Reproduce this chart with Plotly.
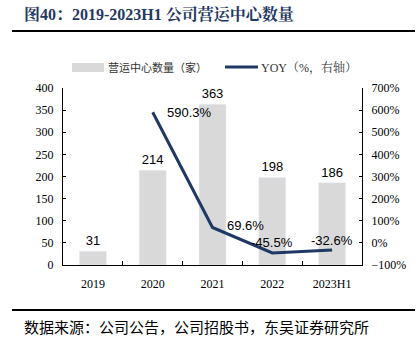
import plotly.graph_objects as go

categories = ["2019", "2020", "2021", "2022", "2023H1"]
centers = [31, 214, 363, 198, 186]
yoy_cats = ["2020", "2021", "2022", "2023H1"]
yoy = [590.3, 69.6, -45.5, -32.6]
# label placement: (xanchor, xshift, yshift)
yoy_lab = [("left", 12, 0), ("left", 12, 2), ("center", 0, 10), ("center", 0, 10)]

W, H = 417, 345
L, R, T, B = 63, 362, 88, 265

serif = "Liberation Serif, Times New Roman, Noto Serif CJK SC, serif"
sans = "Liberation Sans, Arial, sans-serif"
cjk = "Noto Sans CJK SC, sans-serif"
navy = "#1F3864"
gray = "#D9D9D9"

fig = go.Figure()
fig.add_trace(go.Bar(
    x=categories, y=centers, marker_color=gray, width=0.45,
    text=[str(v) for v in centers], textposition="outside",
    textfont=dict(family=sans, size=13, color="#000"),
    cliponaxis=False, name="营运中心数量（家）", showlegend=False,
))
fig.add_trace(go.Scatter(
    x=yoy_cats, y=yoy, yaxis="y2", mode="lines",
    line=dict(color=navy, width=3),
    cliponaxis=False, name="YOY（%，右轴）", showlegend=False,
))

fig.update_layout(
    width=W, height=H, autosize=False,
    margin=dict(l=L, r=W - R, t=T, b=H - B),
    plot_bgcolor="white", paper_bgcolor="white",
    showlegend=False,
    xaxis=dict(
        type="category",
        categoryorder="array", categoryarray=categories,
        range=[-0.5, len(categories) - 0.5],
        showline=True, linecolor="#000", linewidth=1,
        ticks="inside", tickson="boundaries", ticklen=4, tickcolor="#000",
        tickfont=dict(family=serif, size=12, color="#000"),
        ticklabelstandoff=8,
        showgrid=False,
    ),
    yaxis=dict(
        range=[0, 400], dtick=50, showgrid=False, zeroline=False,
        showline=True, linecolor="#000", linewidth=1,
        ticks="inside", ticklen=3, tickcolor="#000",
        tickfont=dict(family=serif, size=12, color="#000"),
        ticklabelstandoff=6,
    ),
    yaxis2=dict(
        range=[-100, 700], dtick=100, overlaying="y", side="right",
        showgrid=False, zeroline=False,
        showline=True, linecolor="#000", linewidth=1,
        ticks="inside", ticklen=3, tickcolor="#000",
        ticksuffix="%",
        tickfont=dict(family=serif, size=12, color="#000"),
        ticklabelstandoff=6,
    ),
)

def pxp(x):
    return (x - L) / (R - L)

def pyp(y):
    return (B - y) / (B - T)

shapes = [
    dict(type="line", xref="paper", yref="paper", x0=pxp(12), x1=pxp(415),
         y0=pyp(31), y1=pyp(31), line=dict(color="#000", width=2)),
    dict(type="line", xref="paper", yref="paper", x0=pxp(12), x1=pxp(415),
         y0=pyp(310), y1=pyp(310), line=dict(color="#000", width=2)),
    dict(type="rect", xref="paper", yref="paper", x0=pxp(72), x1=pxp(104),
         y0=pyp(72), y1=pyp(63), fillcolor=gray, line=dict(width=0)),
    dict(type="line", xref="paper", yref="paper", x0=pxp(225), x1=pxp(258),
         y0=pyp(67), y1=pyp(67), line=dict(color=navy, width=3)),
]
annotations = [
    dict(xref="paper", yref="paper", x=pxp(22), y=pyp(15), xanchor="left",
         yanchor="middle", showarrow=False,
         text="<b>图40：2019-2023H1 公司营运中心数量</b>",
         font=dict(family=serif, size=16, color=navy)),
    dict(xref="paper", yref="paper", x=pxp(106), y=pyp(67), xanchor="left",
         yanchor="middle", showarrow=False, text="营运中心数量（家）",
         font=dict(family=cjk, size=11, color="#333")),
    dict(xref="paper", yref="paper", x=pxp(259), y=pyp(67), xanchor="left",
         yanchor="middle", showarrow=False, text="YOY（%，右轴）",
         font=dict(family=serif, size=12, color="#333")),
    dict(xref="paper", yref="paper", x=pxp(22), y=pyp(326), xanchor="left",
         yanchor="middle", showarrow=False,
         text="数据来源：公司公告，公司招股书，东吴证券研究所",
         font=dict(family=cjk, size=15, color="#000")),
]
for c, v, (xa, xs, ys) in zip(yoy_cats, yoy, yoy_lab):
    annotations.append(dict(
        x=categories.index(c), y=v, xref="x", yref="y2", xanchor=xa,
        yanchor="middle", xshift=xs, yshift=ys, showarrow=False,
        text=f"{v:.1f}%", font=dict(family=sans, size=13, color="#000"),
    ))
fig.update_layout(shapes=shapes, annotations=annotations)

fig.write_html("out.html")
